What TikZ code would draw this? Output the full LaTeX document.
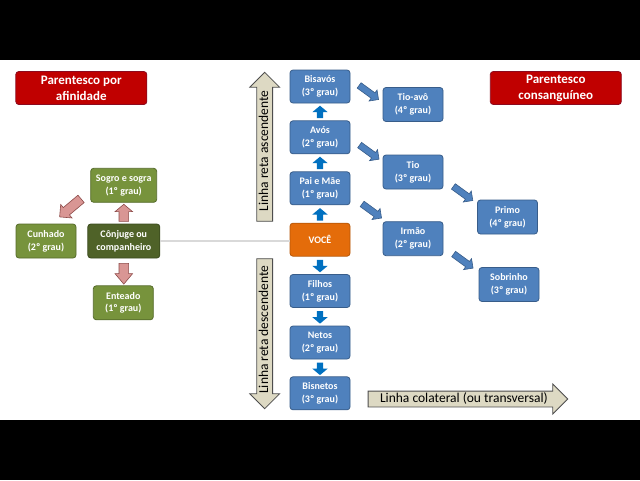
\documentclass[tikz,border=0pt]{standalone}
\usepackage{fontspec}
\setmainfont{Carlito}
\usepackage{tikz}
\usetikzlibrary{arrows,backgrounds,calc,shapes.arrows}
\definecolor{azulF}{HTML}{4F81BD}
\definecolor{azulB}{HTML}{385D8A}
\definecolor{azulS}{HTML}{0070C0}
\definecolor{verdeF}{HTML}{77933C}
\definecolor{verdeB}{HTML}{556B2A}
\definecolor{verdeE}{HTML}{4F6228}
\definecolor{verdeEB}{HTML}{3B4A1E}
\definecolor{vermF}{HTML}{C00000}
\definecolor{vermB}{HTML}{8C0A1E}
\definecolor{laranjaF}{HTML}{E46C0A}
\definecolor{laranjaB}{HTML}{B65708}
\definecolor{rosaF}{HTML}{D99694}
\definecolor{rosaB}{HTML}{8C4A48}
\definecolor{begeF}{HTML}{DDD9C3}
\definecolor{begeB}{HTML}{4D4D4D}

\begin{document}
\begin{tikzpicture}[x=1pt,y=-1pt,
  box/.style={rectangle,rounded corners=3pt,minimum width=60pt,minimum height=33pt,inner sep=1pt,align=center,text=white,font=\fontsize{10}{12.7}\selectfont\bfseries,line width=0.8pt},
  azul/.style={box,fill=azulF,draw=azulB},
  verde/.style={box,fill=verdeF,draw=verdeB,minimum height=34pt},
  titulo/.style={box,fill=vermF,draw=vermB,minimum width=131pt,font=\fontsize{13}{16}\selectfont\bfseries},
  seta/.style={single arrow,fill=azulS,inner xsep=0pt,inner ysep=3pt,single arrow head extend=4.5pt,single arrow tip angle=100,minimum height=12.5pt,anchor=tail},
  setad/.style={single arrow,fill=azulF,draw=azulB,line width=0.6pt,inner xsep=0pt,inner ysep=3pt,single arrow head extend=3.5pt,minimum height=24pt,rotate=-36},
  rosa/.style={single arrow,fill=rosaF,draw=rosaB,line width=0.6pt,inner xsep=0pt,inner ysep=4.5pt,single arrow head extend=4pt,anchor=tail},
  bege/.style={single arrow,fill=begeF,draw=begeB,line width=0.8pt,font=\fontsize{13.5}{15}\selectfont,text height=10pt,text depth=3pt,inner ysep=1pt,inner xsep=2pt,single arrow head extend=7pt,anchor=tail}]
\useasboundingbox (0,0) rectangle (640,480);
\fill[white] (0,0) rectangle (640,480);
\fill[black] (0,0) rectangle (640,60);
\fill[black] (0,420) rectangle (640,480);

\node[titulo] (afinidade) at (81.3,88) {Parentesco por\\afinidade};
\node[titulo] (consanguineo) at (555.8,88) {Parentesco\\consanguíneo};

\node[azul] (bisavos) at (320,86.5) {Bisavós\\(3º grau)};
\node[azul] (avos) at (320,137.3) {Avós\\(2º grau)};
\node[azul] (pais) at (320,188.3) {Pai e Mãe\\(1º grau)};
\node[box,fill=laranjaF,draw=laranjaB] (voce) at (320,239.7) {VOCÊ};
\node[azul] (filhos) at (320,291) {Filhos\\(1º grau)};
\node[azul] (netos) at (320,342.5) {Netos\\(2º grau)};
\node[azul] (bisnetos) at (320,393.3) {Bisnetos\\(3º grau)};

\node[azul,minimum height=34pt] (tioavo) at (413,104.5) {Tio-avô\\(4º grau)};
\node[azul,minimum height=34pt] (tio) at (413,172) {Tio\\(3º grau)};
\node[azul,minimum height=34pt] (irmao) at (413,238.7) {Irmão\\(2º grau)};
\node[azul,minimum height=34pt] (primo) at (507.5,217) {Primo\\(4º grau)};
\node[azul,minimum height=34pt] (sobrinho) at (509,284.5) {Sobrinho\\(3º grau)};

\node[verde,minimum width=66pt] (sogros) at (123.7,185.3) {Sogro e sogra\\(1º grau)};
\node[verde,minimum width=72pt,fill=verdeE,draw=verdeEB] (conjuge) at (123.8,241) {Cônjuge ou\\companheiro};
\node[verde] (cunhado) at (46,241) {Cunhado\\(2º grau)};
\node[verde] (enteado) at (123.3,302.8) {Enteado\\(1º grau)};

\draw[black!15,line width=1.2pt] (conjuge.east) -- (conjuge.east -| voce.west);

\node[seta,rotate=90] (s1) at ($(avos.north)+(0,-2)$) {};
\node[seta,rotate=90] (s2) at ($(pais.north)+(0,-2)$) {};
\node[seta,rotate=90] (s3) at ($(voce.north)+(0,-2)$) {};
\node[seta,rotate=-90] (s4) at ($(voce.south)+(0,3)$) {};
\node[seta,rotate=-90] (s5) at ($(filhos.south)+(0,3)$) {};
\node[seta,rotate=-90] (s6) at ($(netos.south)+(0,3)$) {};

\node[setad] (d1) at ($(bisavos.east)!0.5!(tioavo.west)+(1,-4)$) {};
\node[setad] (d2) at ($(avos.east)!0.5!(tio.west)+(1.5,-3.5)$) {};
\node[setad] (d3) at ($(pais.east)!0.5!(irmao.west)+(4,-3.5)$) {};
\node[setad] (d4) at ($(tio.east)!0.5!(primo.west)+(1.5,-2)$) {};
\node[setad] (d5) at ($(irmao.east)!0.5!(sobrinho.west)+(1,-1.5)$) {};

\node[rosa,rotate=90,minimum height=17pt,single arrow tip angle=100] (r1) at ($(conjuge.north)+(0,-2)$) {};
\node[rosa,rotate=-90,minimum height=20.7pt,single arrow tip angle=80] (r2) at ($(conjuge.south)+(0,4.7)$) {};
\node[rosa,rotate=220,minimum height=28pt,single arrow tip angle=90] (r3) at ($(sogros.south west)+(-9,-4)$) {};

\node[bege,rotate=90,minimum height=149pt] (ascendente) at (264.7,221.7) {Linha reta ascendente};
\node[bege,rotate=90,shape border rotate=180,minimum height=150pt] (descendente) at (264.7,258.3) {Linha reta descendente};
\node[bege,minimum height=199.6pt] (colateral) at (367.7,399) {Linha colateral (ou transversal)};
\end{tikzpicture}
\end{document}
